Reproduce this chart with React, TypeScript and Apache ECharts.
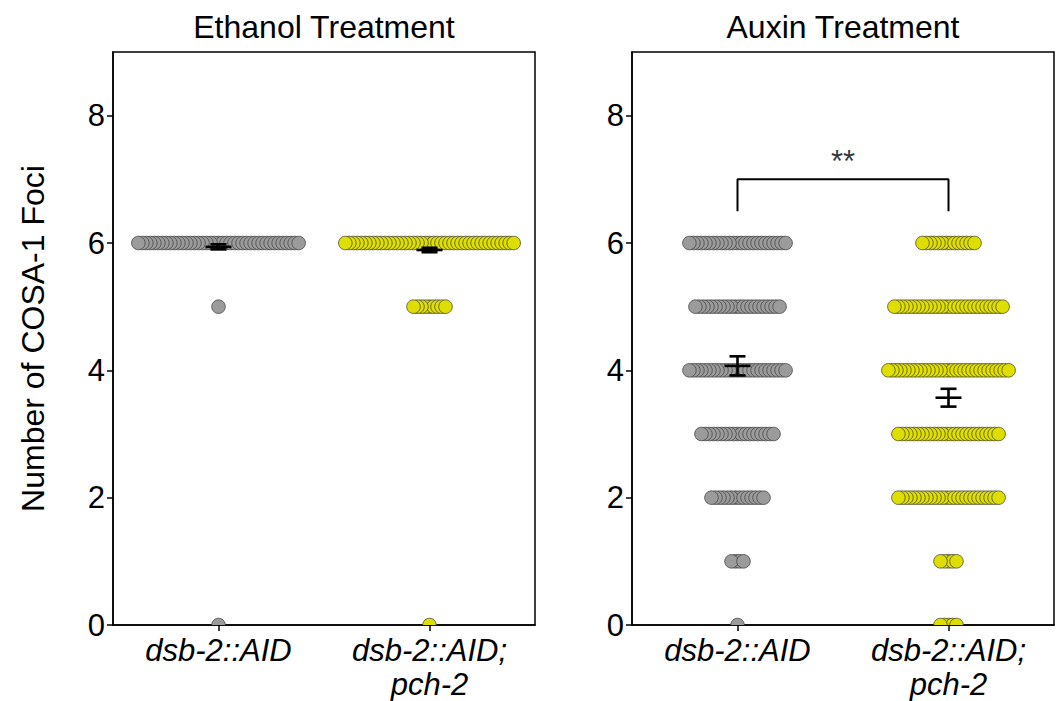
import React, { useEffect, useRef } from "react";
import * as echarts from "echarts";

// Rows of the dot plot (number of COSA-1 foci), top to bottom
const rowValues = [6, 5, 4, 3, 2, 1, 0];
// Number of nuclei per row
const ethanolDsb2 = [41, 1, 0, 0, 0, 0, 1];
const ethanolPch2 = [43, 9, 0, 0, 0, 0, 1];
const auxinDsb2 = [25, 22, 25, 19, 14, 4, 1];
const auxinPch2 = [14, 28, 31, 26, 26, 5, 5];

// Mean and SEM shown by the error bars
const ethanolMeans = [5.94, 5.89];
const ethanolSem = [0.04, 0.035];
const auxinMeans = [4.07, 3.57];
const auxinSem = [0.15, 0.14];

const categories = ["dsb-2::AID", "dsb-2::AID;\npch-2"];
const panelTitles = ["Ethanol Treatment", "Auxin Treatment"];
const yTicks = [0, 2, 4, 6, 8];
const significance = "**";
const yName = "Number of COSA-1 Foci";

const FONT = '"Liberation Sans", Arial, Helvetica, sans-serif';
const GRAY = "#9b9b9b";
const YELLOW = "#dede00";
const SPACING = 0.019; // horizontal offset between stacked dots (x units)
const DOT_R = 6.8;

function buildDots(counts: number[], xCenter: number): number[][] {
  const out: number[][] = [];
  counts.forEach((n, r) => {
    const offs: number[] = [];
    for (let i = 0; i < n; i++) offs.push((i - (n - 1) / 2) * SPACING);
    offs.sort((a, b) => Math.abs(a) - Math.abs(b));
    offs.forEach((o) => out.push([xCenter + o, rowValues[r]]));
  });
  return out;
}

function errRender(params: any, api: any) {
  const x = api.value(0);
  const m = api.value(1);
  const s = api.value(2);
  const c = api.coord([x, m]);
  const t = api.coord([x, m + s]);
  const b = api.coord([x, m - s]);
  const style = { stroke: "#000", lineWidth: 2.6 };
  return {
    type: "group",
    children: [
      { type: "line", shape: { x1: c[0], y1: t[1], x2: c[0], y2: b[1] }, style },
      { type: "line", shape: { x1: c[0] - 8, y1: t[1], x2: c[0] + 8, y2: t[1] }, style },
      { type: "line", shape: { x1: c[0] - 8, y1: b[1], x2: c[0] + 8, y2: b[1] }, style },
      { type: "line", shape: { x1: c[0] - 13, y1: c[1], x2: c[0] + 13, y2: c[1] }, style },
    ],
  };
}

function dotRender(color: string) {
  return (params: any, api: any) => {
    const p = api.coord([api.value(0), api.value(1)]);
    return {
      type: "circle",
      shape: { cx: p[0], cy: p[1], r: DOT_R },
      style: { fill: color, stroke: "#3a3a3a", lineWidth: 0.7 },
    };
  };
}

export default function App() {
  const ref = useRef<HTMLDivElement>(null);
  useEffect(() => {
    if (!ref.current) return;
    const chart = echarts.init(ref.current, null, { renderer: "svg" });
    const grids = [
      { left: 113, top: 52, width: 422, height: 576 },
      { left: 632, top: 52, width: 422, height: 576 },
    ].map((g) => ({
      ...g,
      show: true,
      borderColor: "#000",
      borderWidth: 1.5,
      backgroundColor: "#fff",
    }));
    const xAxes = [0, 1].map((i) => ({
      type: "value",
      gridIndex: i,
      min: 0.5,
      max: 2.5,
      splitLine: { show: false },
      axisLine: { show: true, lineStyle: { color: "#000", width: 1.5 } },
      axisTick: {
        show: true,
        customValues: [1, 2],
        length: 6,
        lineStyle: { color: "#000", width: 1.5 },
      },
      axisLabel: {
        customValues: [1, 2],
        formatter: (v: number) => categories[Math.round(v) - 1] ?? "",
        fontFamily: FONT,
        fontStyle: "italic",
        fontSize: 31,
        lineHeight: 34,
        color: "#000",
        margin: 8,
        align: "center",
      },
    }));
    const yAxes = [0, 1].map((i) => ({
      type: "value",
      gridIndex: i,
      min: 0,
      max: 9,
      interval: 2,
      splitLine: { show: false },
      name: i === 0 ? yName : "",
      nameLocation: "middle",
      nameRotate: 90,
      nameGap: 64,
      nameTextStyle: { fontFamily: FONT, fontSize: 32, color: "#000" },
      axisLine: { show: true, lineStyle: { color: "#000", width: 1.5 } },
      axisTick: {
        show: true,
        customValues: yTicks,
        length: 6,
        lineStyle: { color: "#000", width: 1.5 },
      },
      axisLabel: {
        customValues: yTicks,
        fontFamily: FONT,
        fontSize: 31,
        color: "#000",
        margin: 8,
      },
    }));
    const dots = (data: number[][], color: string, idx: number) => ({
      type: "custom",
      xAxisIndex: idx,
      yAxisIndex: idx,
      data,
      encode: { x: 0, y: 1 },
      renderItem: dotRender(color),
      clip: true,
      z: 2,
    });
    const option: any = {
      animation: false,
      grid: grids,
      xAxis: xAxes,
      yAxis: yAxes,
      graphic: panelTitles.map((t, i) => ({
        type: "text",
        x: i === 0 ? 324 : 843,
        y: 27,
        style: {
          text: t,
          align: "center",
          verticalAlign: "middle",
          font: `32px ${FONT}`,
          fill: "#000",
        },
      })),
      series: [
        dots(buildDots(ethanolDsb2, 1), GRAY, 0),
        dots(buildDots(ethanolPch2, 2), YELLOW, 0),
        dots(buildDots(auxinDsb2, 1), GRAY, 1),
        dots(buildDots(auxinPch2, 2), YELLOW, 1),
        {
          type: "custom",
          xAxisIndex: 0,
          yAxisIndex: 0,
          renderItem: errRender,
          data: ethanolMeans.map((m, i) => [i + 1, m, ethanolSem[i]]),
          encode: { x: 0, y: 1 },
          z: 5,
          clip: false,
        },
        {
          type: "custom",
          xAxisIndex: 1,
          yAxisIndex: 1,
          renderItem: errRender,
          data: auxinMeans.map((m, i) => [i + 1, m, auxinSem[i]]),
          encode: { x: 0, y: 1 },
          z: 5,
          clip: false,
        },
        {
          type: "line",
          xAxisIndex: 1,
          yAxisIndex: 1,
          data: [
            [1, 6.5],
            [1, 7],
            [2, 7],
            [2, 6.5],
          ],
          symbol: "none",
          lineStyle: { color: "#000", width: 2 },
          z: 5,
        },
        {
          type: "scatter",
          xAxisIndex: 1,
          yAxisIndex: 1,
          data: [[1.5, 7]],
          symbolSize: 0,
          label: {
            show: true,
            formatter: significance,
            position: "top",
            distance: 2,
            fontFamily: FONT,
            fontSize: 31,
            color: "#000",
          },
          z: 5,
        },
      ],
    };
    chart.setOption(option);
    return () => chart.dispose();
  }, []);
  return (
    <div
      ref={ref}
      style={{ position: "fixed", left: 0, top: 0, width: 1062, height: 701, background: "#fff" }}
    />
  );
}
